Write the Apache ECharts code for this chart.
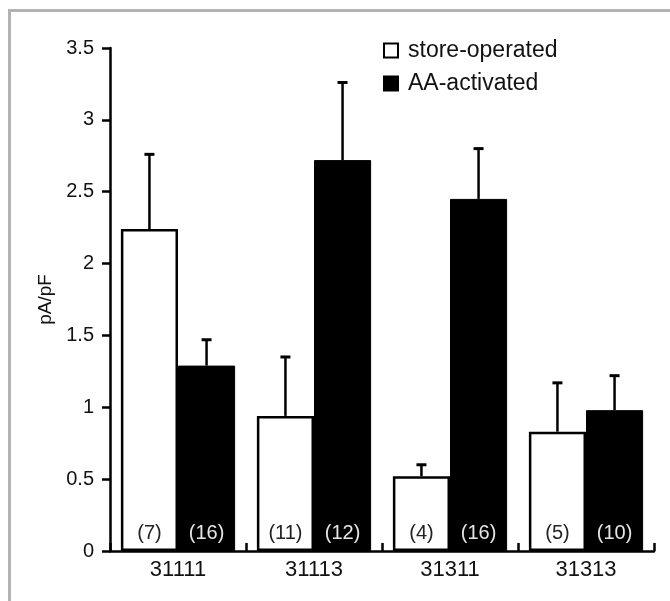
<!DOCTYPE html>
<html>
<head>
<meta charset="utf-8">
<script src="https://cdn.jsdelivr.net/npm/echarts@6/dist/echarts.min.js"></script>
<style>
  html, body { margin: 0; padding: 0; background: #fff; }
  #chart { width: 670px; height: 601px; }
</style>
</head>
<body>
<div id="chart"></div>
<script>
// 数据
const categories = ['31111', '31113', '31311', '31313'];
const storeOperated = [2.24, 0.94, 0.52, 0.83];
const storeOperatedErr = [0.52, 0.41, 0.08, 0.34];
const aaActivated = [1.29, 2.72, 2.45, 0.98];
const aaActivatedErr = [0.18, 0.54, 0.35, 0.24];
const storeN = [7, 11, 4, 5];
const aaN = [16, 12, 16, 10];

const FONT = "'Liberation Sans', Arial, sans-serif";
const CAT_GAP = 0.16; // barCategoryGap

const chart = echarts.init(document.getElementById('chart'));

// 误差线（只画上半部分）
function errorRenderer(side) {
    return function (params, api) {
        const idx = api.value(0);
        const top = api.coord([idx, api.value(1) + api.value(2)]);
        const base = api.coord([idx, api.value(1)]);
        const band = api.size([1, 0])[0];
        const barW = band * (1 - CAT_GAP) / 2;
        const x = base[0] + side * barW / 2;
        const cap = 5;
        return {
            type: 'group',
            children: [
                { type: 'line', shape: { x1: x, y1: base[1], x2: x, y2: top[1] },
                  style: { stroke: '#000', lineWidth: 2.5 } },
                { type: 'line', shape: { x1: x - cap, y1: top[1], x2: x + cap, y2: top[1] },
                  style: { stroke: '#000', lineWidth: 3 } }
            ]
        };
    };
}

const option = {
    animation: false,
    textStyle: { fontFamily: FONT },
    graphic: [{
        type: 'rect',
        z: -10,
        shape: { x: 9.5, y: 10.5, width: 720, height: 720 },
        style: { fill: 'none', stroke: '#b3b3b3', lineWidth: 3 }
    }],
    legend: {
        orient: 'vertical',
        left: 378,
        top: 34,
        itemWidth: 14,
        itemHeight: 14,
        itemGap: 10,
        icon: 'rect',
        textStyle: { fontFamily: FONT, fontSize: 23, color: '#111', padding: [0, 0, 0, 5] },
        data: ['store-operated', 'AA-activated']
    },
    grid: { left: 110, right: 16, top: 48, bottom: 50 },
    xAxis: {
        type: 'category',
        data: categories,
        axisLine: { lineStyle: { color: '#000', width: 2.5 } },
        axisTick: { show: true, inside: true, length: 8, lineStyle: { color: '#000', width: 2.5 } },
        axisLabel: { color: '#111', fontSize: 22, fontFamily: FONT, margin: 8 }
    },
    yAxis: {
        type: 'value',
        min: 0,
        max: 3.5,
        interval: 0.5,
        name: 'pA/pF',
        nameLocation: 'middle',
        nameRotate: 90,
        nameGap: 47,
        nameTextStyle: { color: '#111', fontSize: 19, fontFamily: FONT },
        axisLine: { show: true, lineStyle: { color: '#000', width: 2.5 } },
        axisTick: { show: true, length: 8, lineStyle: { color: '#000', width: 2.5 } },
        axisLabel: { color: '#111', fontSize: 20, fontFamily: FONT, margin: 16 },
        splitLine: { show: false }
    },
    series: [
        {
            name: 'store-operated',
            type: 'bar',
            data: storeOperated,
            barGap: '0%',
            barCategoryGap: (CAT_GAP * 100) + '%',
            itemStyle: { color: '#fff', borderColor: '#000', borderWidth: 2.5 },
            label: {
                show: true,
                position: 'insideBottom',
                distance: 8,
                color: '#222',
                fontSize: 20,
                fontFamily: FONT,
                formatter: p => '(' + storeN[p.dataIndex] + ')'
            }
        },
        {
            name: 'AA-activated',
            type: 'bar',
            data: aaActivated,
            barGap: '0%',
            barCategoryGap: (CAT_GAP * 100) + '%',
            itemStyle: { color: '#000', borderColor: '#000', borderWidth: 1 },
            label: {
                show: true,
                position: 'insideBottom',
                distance: 8,
                color: '#e6e6e6',
                fontSize: 20,
                fontFamily: FONT,
                formatter: p => '(' + aaN[p.dataIndex] + ')'
            }
        },
        {
            type: 'custom',
            z: 5,
            renderItem: errorRenderer(-1),
            encode: { x: 0, y: 1 },
            data: storeOperated.map((v, i) => [i, v, storeOperatedErr[i]])
        },
        {
            type: 'custom',
            z: 5,
            renderItem: errorRenderer(1),
            encode: { x: 0, y: 1 },
            data: aaActivated.map((v, i) => [i, v, aaActivatedErr[i]])
        }
    ]
};

chart.setOption(option);
</script>
</body>
</html>
